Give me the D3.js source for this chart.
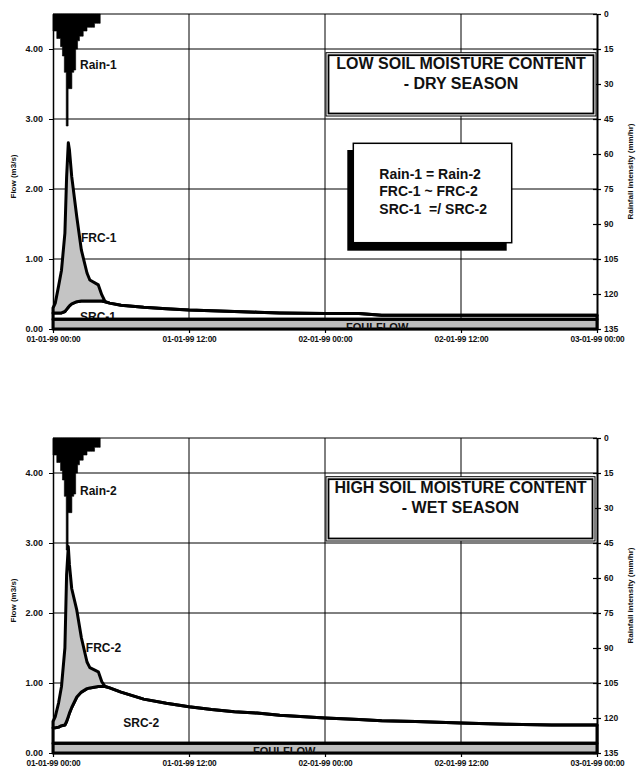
<!DOCTYPE html>
<html><head><meta charset="utf-8">
<script src="https://cdn.jsdelivr.net/npm/d3@7/dist/d3.min.js"></script>
<style>
body{margin:0;background:#fff}
svg{display:block}
text{font-family:"Liberation Sans",Arial,sans-serif;font-weight:bold;fill:#111}
</style>
</head><body>
<svg id="c" width="636" height="770"></svg>
<script>
// ---------- data ----------
const hours = [0,0.2,0.5,0.75,1.05,1.2,1.35,1.45,1.65,2.1,2.5,3.0,3.25,4.0,4.3,4.6,5,6,8,10,12,14,16,18,20,24,27,29,32,36,40,44,48];
const foulFlow = 0.14;
const src1 = [0.09,0.09,0.09,0.09,0.11,0.14,0.17,0.19,0.22,0.25,0.26,0.26,0.26,0.26,0.26,0.25,0.23,0.20,0.17,0.15,0.13,0.12,0.11,0.10,0.09,0.08,0.08,0.055,0.055,0.055,0.055,0.055,0.055];
const frc1 = [0.07,0.14,0.39,0.61,1.12,1.89,2.35,2.23,1.82,1.21,0.73,0.40,0.30,0.23,0.09,0,0,0,0,0,0,0,0,0,0,0,0,0,0,0,0,0,0];
const src2 = [0.22,0.22,0.23,0.25,0.26,0.31,0.38,0.43,0.51,0.66,0.73,0.78,0.79,0.81,0.81,0.81,0.79,0.73,0.63,0.57,0.52,0.48,0.45,0.43,0.40,0.36,0.34,0.32,0.31,0.29,0.27,0.26,0.26];
const frc2 = [0.09,0.16,0.35,0.56,1.10,2.10,2.43,2.12,1.70,1.24,0.78,0.38,0.29,0.21,0.07,0,0,0,0,0,0,0,0,0,0,0,0,0,0,0,0,0,0];

const rainStep = 1/6; // 10-minute rainfall intervals (hours)
const rain = [7.3,7.3,10.5,10.5,14,18,25,48,32,32,25,24,15,11.5,9.5,9.5,7.3,7.3,5.7,5.7,5.7,5.7,4,4,4];

const flowTicks = [0,1,2,3,4];
const rainTicks = [0,15,30,45,60,75,90,105,120,135];
const timeTicks = [0,12,24,36,48];
const timeLabels = ["01-01-99 00:00","01-01-99 12:00","02-01-99 00:00","02-01-99 12:00","03-01-99 00:00"];

const titles1 = ["LOW SOIL MOISTURE CONTENT","- DRY SEASON"];
const titles2 = ["HIGH SOIL MOISTURE CONTENT","- WET SEASON"];
const noteLines = ["Rain-1 = Rain-2","FRC-1 ~ FRC-2","SRC-1  =/ SRC-2"];

// ---------- layout ----------
const svg = d3.select("#c");
const X0 = 53, X1 = 597;
const panels = [
  {top:14, bottom:329, src:src1, frc:frc1, rainLbl:"Rain-1", frcLbl:"FRC-1", srcLbl:"SRC-1",
   rainPos:[2.38,3.71], frcPos:[2.47,1.24], srcPos:[2.38,0.12], foulX:28.6,
   title:titles1, titleBox:[326,52.7,596,116], note:true, id:0},
  {top:438, bottom:753, src:src2, frc:frc2, rainLbl:"Rain-2", frcLbl:"FRC-2", srcLbl:"SRC-2",
   rainPos:[2.38,3.69], frcPos:[2.9,1.45], srcPos:[6.2,0.365], foulX:20.4,
   title:titles2, titleBox:[326,476.7,595,541], note:false, id:1}
];

const x = d3.scaleLinear().domain([0,48]).range([X0,X1]);
const rainTable = rain.map((v,i)=>({t:i*rainStep, v})).concat([{t:rain.length*rainStep, v:rain[rain.length-1]}]);

panels.forEach(p=>{
  const y = d3.scaleLinear().domain([0,4.5]).range([p.bottom,p.top]);
  const yR = d3.scaleLinear().domain([0,135]).range([p.top,p.bottom]);
  const g = svg.append("g");

  const clipId = "clip"+p.id;
  svg.append("clipPath").attr("id",clipId).append("rect")
    .attr("x",X0).attr("y",p.top).attr("width",X1-X0).attr("height",p.bottom-p.top);

  // gridlines
  g.selectAll(".hg").data(flowTicks.filter(d=>d>0).concat([4.5])).join("line")
    .attr("x1",X0).attr("x2",X1).attr("y1",d=>y(d)).attr("y2",d=>y(d))
    .attr("stroke","#000").attr("stroke-width",1);
  g.selectAll(".vg").data(timeTicks.slice(1,-1)).join("line")
    .attr("x1",d=>x(d)).attr("x2",d=>x(d)).attr("y1",p.top).attr("y2",p.bottom)
    .attr("stroke","#000").attr("stroke-width",1);

  // SRC label (partly hidden beneath the foul-flow band)
  g.append("text").attr("x",x(p.srcPos[0])).attr("y",y(p.srcPos[1]))
    .attr("font-size",12).text(p.srcLbl);

  // stacked flow components
  const table = hours.map((t,i)=>({t, foul:foulFlow, src:p.src[i], frc:p.frc[i]}));
  const stack = d3.stack().keys(["foul","src","frc"])(table);
  const area = d3.area().x(d=>x(d.data.t)).y0(d=>y(d[0])).y1(d=>y(d[1]));
  const fills = {foul:"#bdbdbd", src:"none", frc:"#c4c4c4"};
  stack.forEach(s=>{
    g.append("path").attr("d",area(s)).attr("fill",fills[s.key])
      .attr("stroke","#000").attr("stroke-width",3).attr("stroke-linejoin","round");
  });

  // FOULFLOW label, clipped at the axis
  g.append("text").attr("clip-path",`url(#${clipId})`)
    .attr("x",x(p.foulX)).attr("y",p.bottom+1.5).attr("text-anchor","middle")
    .attr("font-size",11).text("FOULFLOW");

  // rainfall hyetograph (bars hanging from the top, drawn as one stepped shape)
  const rainArea = d3.area().curve(d3.curveStepAfter)
    .x(d=>x(d.t)).y0(p.top).y1(d=>yR(d.v));
  g.append("path").attr("d",rainArea(rainTable)).attr("fill","#000")
    .attr("stroke","#000").attr("stroke-width",0.6);

  // axes
  const ax = g.append("g").attr("transform",`translate(${X0},0)`)
    .call(d3.axisLeft(y).tickValues(flowTicks).tickFormat(d3.format(".2f")).tickSize(4).tickSizeOuter(0).tickPadding(6));
  ax.select(".domain").attr("stroke-width",1.5);
  ax.selectAll("text").attr("font-size",9).attr("font-family",null);

  const ar = g.append("g").attr("transform",`translate(${X1},0)`)
    .call(d3.axisRight(yR).tickValues(rainTicks).tickSize(4).tickSizeOuter(0).tickPadding(3));
  ar.select(".domain").attr("stroke-width",2);
  ar.selectAll(".tick line").attr("x1",-4).attr("stroke-width",1.2);
  ar.selectAll("text").attr("font-size",8.5).attr("font-family",null);

  const ab = g.append("g").attr("transform",`translate(0,${p.bottom})`)
    .call(d3.axisBottom(x).tickValues(timeTicks).tickFormat((d,i)=>timeLabels[i]).tickSize(4).tickSizeOuter(0).tickPadding(3));
  ab.select(".domain").attr("stroke-width",1.5);
  ab.selectAll(".tick line").attr("stroke-width",1.2);
  ab.selectAll("text").attr("font-size",8.3).attr("font-family",null).attr("letter-spacing",-0.2);

  // axis titles
  const mid = (p.top+p.bottom)/2;
  g.append("text").attr("transform",`translate(16,${mid+5}) rotate(-90)`)
    .attr("text-anchor","middle").attr("font-size",8).attr("fill","#333").text("Flow (m3/s)");
  g.append("text").attr("transform",`translate(633,${mid}) rotate(-90)`)
    .attr("text-anchor","middle").attr("font-size",8).attr("fill","#333").text("Rainfall intensity (mm/hr)");

  // series labels
  g.append("text").attr("x",x(p.rainPos[0])).attr("y",y(p.rainPos[1])).attr("font-size",12).text(p.rainLbl);
  g.append("text").attr("x",x(p.frcPos[0])).attr("y",y(p.frcPos[1])).attr("font-size",12).text(p.frcLbl);

  // title box
  const [bx0,by0,bx1,by1] = p.titleBox;
  g.append("rect").attr("x",bx0).attr("y",by0).attr("width",bx1-bx0).attr("height",by1-by0)
    .attr("fill","#fff").attr("stroke","#000").attr("stroke-width",1);
  g.append("rect").attr("x",bx0+2.5).attr("y",by0+2.5).attr("width",bx1-bx0-5).attr("height",by1-by0-5)
    .attr("fill","none").attr("stroke","#000").attr("stroke-width",1.8);
  p.title.forEach((t,i)=>{
    g.append("text").attr("x",(bx0+bx1)/2).attr("y",by0+16+i*20.5)
      .attr("text-anchor","middle").attr("font-size",16).text(t);
  });

  if(p.note){
    g.append("rect").attr("x",347.3).attr("y",150).attr("width",159.4).attr("height",100.7).attr("fill","#000");
    g.append("rect").attr("x",353.3).attr("y",143.3).attr("width",158.4).attr("height",99.4)
      .attr("fill","#fff").attr("stroke","#000").attr("stroke-width",1.5);
    noteLines.forEach((t,i)=>{
      g.append("text").attr("x",379.3).attr("y",178.5+i*17.8).attr("font-size",14)
        .attr("xml:space","preserve").style("white-space","pre").text(t);
    });
  }
});
</script>
</body></html>
